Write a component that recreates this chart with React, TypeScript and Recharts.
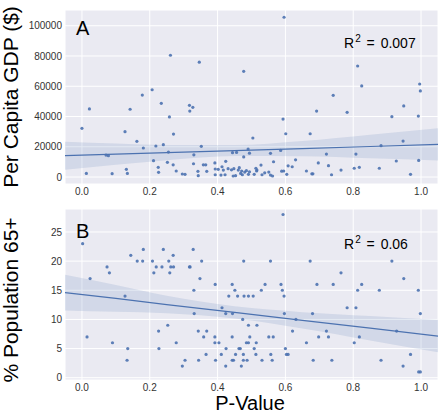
import React from 'react';
import { ComposedChart, Scatter, Line, Area, XAxis, YAxis, CartesianGrid, Customized } from 'recharts';

// ---------- data ----------
const xTicks = [0, 0.2, 0.4, 0.6, 0.8, 1.0];
const gdpTicks = [0, 20000, 40000, 60000, 80000, 100000];
const elderTicks = [0, 5, 10, 15, 20, 25];

// Panel A: [P-Value, Per Capita GDP]
const gdpPoints: [number, number][] = [
  [0.0, 32200], [0.013, 2400], [0.022, 45000], [0.071, 14500], [0.078, 14100], [0.089, 2200],
  [0.127, 30000], [0.131, 5100], [0.134, 2400], [0.142, 44800], [0.162, 23600], [0.178, 54200],
  [0.181, 19200], [0.207, 57700], [0.211, 10800], [0.218, 20500], [0.225, 6400], [0.226, 3100],
  [0.234, 48700], [0.24, 21400], [0.252, 9700], [0.255, 16500], [0.258, 39700], [0.261, 80500],
  [0.269, 8100], [0.27, 28400], [0.278, 4000], [0.296, 2000], [0.304, 1800], [0.317, 47400],
  [0.318, 43600], [0.327, 46100], [0.329, 8800], [0.33, 14700], [0.342, 3800], [0.343, 900],
  [0.346, 75900], [0.352, 20300], [0.358, 8100], [0.365, 8100], [0.368, 3800], [0.392, 9300],
  [0.393, 5300], [0.393, 1500], [0.402, 5100], [0.413, 6800], [0.41, 1300], [0.417, 4600],
  [0.422, 1500], [0.424, 10400], [0.431, 5500], [0.441, 4800], [0.444, 16100], [0.446, 700],
  [0.448, 5500], [0.453, 900], [0.456, 16300], [0.461, 4600], [0.464, 6200], [0.468, 2400],
  [0.471, 4000], [0.473, 1500], [0.477, 13300], [0.477, 69900], [0.48, 3300], [0.485, 4200],
  [0.49, 18500], [0.494, 15800], [0.491, 1800], [0.494, 3500], [0.504, 25800], [0.508, 1800],
  [0.513, 5800], [0.515, 4000], [0.516, 4600], [0.528, 7900], [0.531, 1500], [0.539, 2800],
  [0.551, 3300], [0.556, 15700], [0.556, 1300], [0.562, 700], [0.565, 10100], [0.586, 17600],
  [0.589, 3900], [0.593, 38300], [0.595, 4000], [0.596, 105600], [0.601, 28600], [0.604, 1800],
  [0.608, 7400], [0.62, 6800], [0.63, 11400], [0.662, 4000], [0.673, 28600], [0.678, 2100],
  [0.681, 2100], [0.692, 43600], [0.697, 9300], [0.721, 15200], [0.727, 7500], [0.736, 1500],
  [0.741, 54000], [0.764, 4600], [0.782, 42800], [0.803, 5800], [0.808, 15200], [0.813, 73400],
  [0.818, 6400], [0.825, 60200], [0.877, 5800], [0.882, 20700], [0.914, 39900], [0.927, 10600],
  [0.947, 23800], [0.949, 47000], [0.969, 1800], [0.992, 40300], [0.993, 11000], [0.996, 61500],
  [0.998, 56900],
];

// Panel B: [P-Value, % Population 65+]
const elderPoints: [number, number][] = [
  [0.002, 23], [0.015, 7], [0.024, 17], [0.074, 19], [0.081, 18], [0.09, 6], [0.127, 14],
  [0.133, 3], [0.135, 5], [0.144, 21], [0.163, 20], [0.179, 20], [0.181, 22], [0.208, 20],
  [0.212, 18], [0.219, 19], [0.226, 8], [0.227, 5], [0.236, 19], [0.24, 22], [0.253, 9],
  [0.256, 20], [0.259, 18], [0.262, 19], [0.269, 21], [0.27, 19], [0.278, 6], [0.296, 2],
  [0.304, 3], [0.317, 19], [0.319, 19], [0.328, 22], [0.33, 15], [0.331, 11], [0.343, 8],
  [0.344, 3], [0.348, 17], [0.353, 20], [0.359, 7], [0.366, 4], [0.368, 8], [0.392, 7],
  [0.392, 6], [0.393, 16], [0.394, 3], [0.404, 6], [0.411, 4], [0.413, 12], [0.424, 2],
  [0.424, 11], [0.425, 5], [0.433, 14], [0.443, 7], [0.443, 16], [0.444, 11], [0.443, 3],
  [0.447, 3], [0.451, 15], [0.453, 4], [0.459, 14], [0.463, 5], [0.467, 5], [0.47, 2],
  [0.474, 10], [0.476, 3], [0.476, 4], [0.477, 20], [0.478, 14], [0.485, 6], [0.487, 3],
  [0.491, 6], [0.491, 9], [0.491, 14], [0.495, 7], [0.505, 14], [0.508, 5], [0.513, 4],
  [0.514, 6], [0.516, 9], [0.529, 15], [0.531, 3], [0.54, 16], [0.551, 7], [0.556, 20],
  [0.557, 4], [0.561, 3], [0.564, 7], [0.587, 16], [0.591, 15], [0.593, 28], [0.596, 14],
  [0.597, 11], [0.6, 5], [0.603, 4], [0.608, 4], [0.621, 8], [0.631, 10], [0.662, 6],
  [0.673, 20], [0.68, 11], [0.682, 3], [0.693, 16], [0.698, 7], [0.721, 8], [0.727, 7],
  [0.737, 3], [0.741, 16], [0.764, 18], [0.782, 12], [0.803, 6], [0.808, 12], [0.813, 15],
  [0.818, 7], [0.825, 16], [0.877, 15], [0.882, 3], [0.914, 20], [0.928, 8], [0.947, 2],
  [0.949, 17], [0.969, 4], [0.992, 15], [0.993, 1], [0.998, 1], [0.998, 11],
];

// Regression line and confidence band, read at these P-Values
const bandX = [-0.05, 0.1, 0.25, 0.45, 0.65, 0.85, 1.05];
const gdpFit = [14100, 15100, 16100, 17500, 18800, 20200, 21600];
const gdpLo = [4800, 8100, 11100, 13900, 13800, 12400, 11000];
const gdpHi = [23400, 22100, 21100, 21100, 23800, 28000, 32200];
const elderFit = [14.6, 13.6, 12.55, 11.2, 9.85, 8.5, 7.15];
const elderLo = [11.55, 11.3, 11.05, 10.15, 8.45, 6.4, 4.35];
const elderHi = [17.65, 15.9, 14.05, 12.25, 11.25, 10.6, 9.95];

// ---------- styles ----------
const FONT = '"Liberation Sans", Arial, sans-serif';
const BLUE = '#4C72B0';
const BG = '#EAEAF2';
const TICK = { fontSize: 10, fill: '#333', fontFamily: FONT };

const toPts = (arr: [number, number][]) => arr.map(([x, y]) => ({ x, y }));
const toBand = (fit: number[], lo: number[], hi: number[]) =>
  bandX.map((x, i) => ({ x, fit: fit[i], band: [lo[i], hi[i]] }));

const Dot = (p: any) => <circle cx={p.cx} cy={p.cy} r={1.6} fill={BLUE} fillOpacity={0.9} />;

type PanelProps = {
  height: number;
  top: number;
  xAxisHeight: number;
  points: [number, number][];
  band: any[];
  yDomain: [number, number];
  yTicks: number[];
  overlay: () => React.ReactElement;
};

const Panel = ({ height, top, xAxisHeight, points, band, yDomain, yTicks, overlay }: PanelProps) => (
  <ComposedChart width={440} height={height} data={band} margin={{ top, right: 2, bottom: 0, left: 0 }}>
    <CartesianGrid fill={BG} stroke="#ffffff" strokeWidth={1} />
    <XAxis
      dataKey="x"
      type="number"
      domain={[-0.05, 1.05]}
      ticks={xTicks}
      allowDataOverflow
      tickFormatter={(v: number) => v.toFixed(1)}
      axisLine={false}
      tickLine={false}
      tickSize={0}
      tickMargin={4}
      height={xAxisHeight}
      tick={TICK}
      interval={0}
    />
    <YAxis
      type="number"
      domain={yDomain}
      ticks={yTicks}
      allowDataOverflow
      axisLine={false}
      tickLine={false}
      tickSize={0}
      tickMargin={3}
      width={65}
      tick={TICK}
      interval={0}
    />
    <Scatter data={toPts(points)} dataKey="y" shape={Dot} isAnimationActive={false} />
    <Area dataKey="band" type="monotone" stroke="none" fill={BLUE} fillOpacity={0.15} isAnimationActive={false} activeDot={false} />
    <Line dataKey="fit" type="linear" stroke={BLUE} strokeWidth={1.2} dot={false} activeDot={false} isAnimationActive={false} />
    <Customized component={overlay} />
  </ComposedChart>
);

const R2 = ({ y, value }: { y: number; value: string }) => (
  <text x={344} y={y} fontSize={14} fill="#000" wordSpacing={2}>
    R<tspan dx={1} dy={-6} fontSize={10}>2</tspan><tspan dy={6}> = {value}</tspan>
  </text>
);

const OverlayA = () => (
  <g fontFamily={FONT}>
    <text x={76} y={35} fontSize={20} fill="#000">A</text>
    <R2 y={48} value="0.007" />
    <text x={18} y={97} fontSize={21} fill="#000" textAnchor="middle" transform="rotate(-90 18 97)">
      Per Capita GDP ($)
    </text>
  </g>
);

const OverlayB = () => (
  <g fontFamily={FONT}>
    <text x={76} y={33} fontSize={20} fill="#000">B</text>
    <R2 y={44} value="0.06" />
    <text x={18} y={95} fontSize={21} fill="#000" textAnchor="middle" transform="rotate(-90 18 95)">
      % Population 65+
    </text>
    <text x={250} y={205} fontSize={20} fill="#000" textAnchor="middle">P-Value</text>
  </g>
);

export default function App() {
  return (
    <div style={{ position: 'absolute', left: 0, top: 0, width: 440, height: 414, background: '#fff' }}>
      <div style={{ position: 'absolute', left: 0, top: 0 }}>
        <Panel
          height={205}
          top={10}
          xAxisHeight={21}
          points={gdpPoints}
          band={toBand(gdpFit, gdpLo, gdpHi)}
          yDomain={[-4600, 110400]}
          yTicks={gdpTicks}
          overlay={OverlayA}
        />
      </div>
      <div style={{ position: 'absolute', left: 0, top: 205 }}>
        <Panel
          height={209}
          top={4}
          xAxisHeight={34}
          points={elderPoints}
          band={toBand(elderFit, elderLo, elderHi)}
          yDomain={[-0.39, 28.94]}
          yTicks={elderTicks}
          overlay={OverlayB}
        />
      </div>
    </div>
  );
}
